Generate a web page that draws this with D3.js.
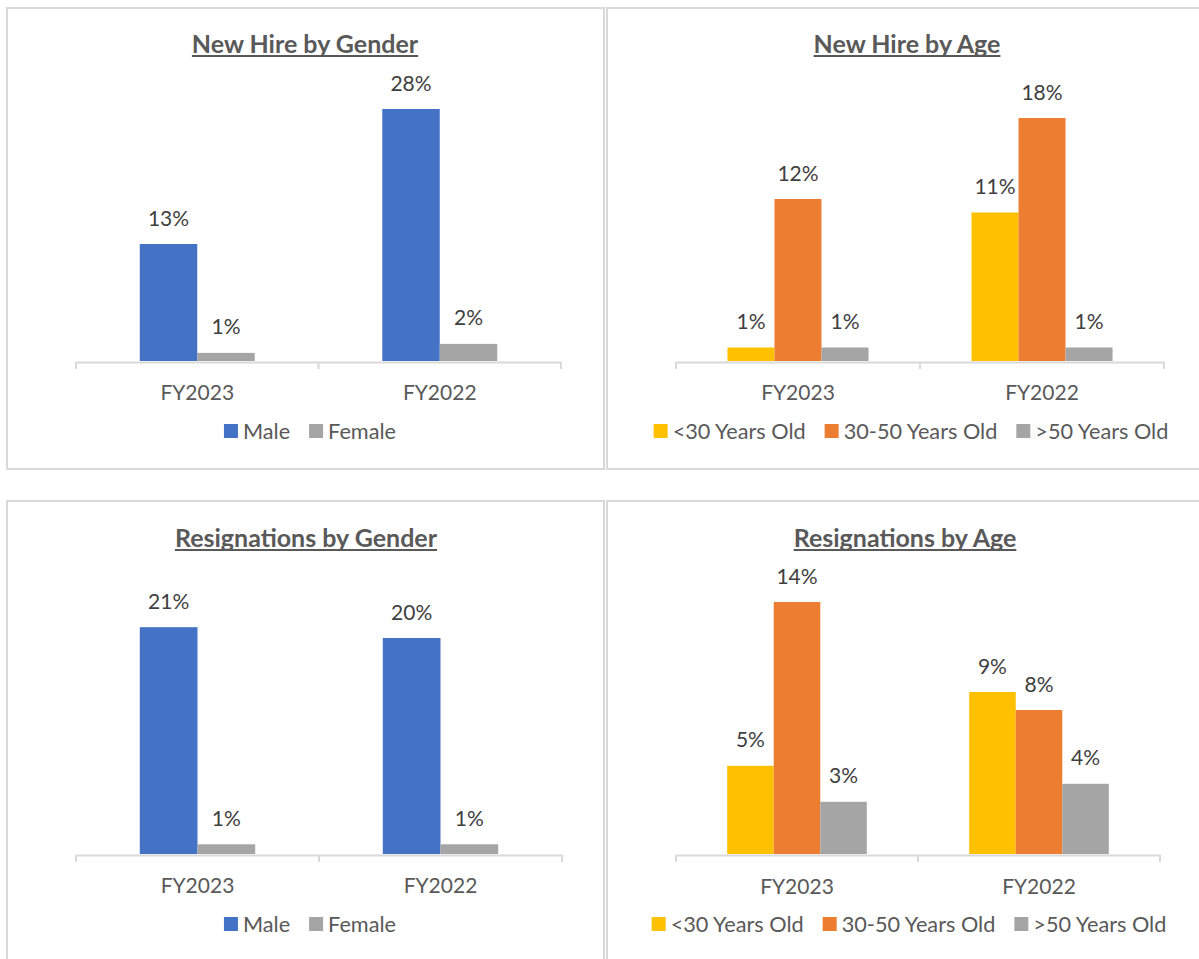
<!DOCTYPE html>
<html>
<head>
<meta charset="utf-8">
<script src="https://cdn.jsdelivr.net/npm/d3@7"></script>
<style>
  html, body { margin: 0; padding: 0; background: #ffffff; }
  svg { display: block; font-family: Lato, "Open Sans", sans-serif; }
</style>
</head>
<body>
<svg id="chart" width="1199" height="959"></svg>
<script>
// ---------- data ----------
const categories = ["FY2023", "FY2022"];
const genderSeries = ["Male", "Female"];
const ageSeries = ["<30 Years Old", "30-50 Years Old", ">50 Years Old"];

const newHireMale = [13.0, 28.0];
const newHireFemale = [0.9, 1.9];

const newHireUnder30 = [1.0, 11.0];
const newHire30to50 = [12.0, 18.0];
const newHireOver50 = [1.0, 1.0];

const resignMale = [21.0, 20.0];
const resignFemale = [0.9, 0.9];

const resignUnder30 = [4.9, 9.0];
const resign30to50 = [14.0, 8.0];
const resignOver50 = [2.9, 3.9];

const titles = ["New Hire by Gender", "New Hire by Age", "Resignations by Gender", "Resignations by Age"];

// ---------- styles ----------
const genderColors = ["#4472C4", "#A5A5A5"];
const ageColors = ["#FFC000", "#ED7D31", "#A5A5A5"];

const svg = d3.select("#chart");

const panels = [
  { title: titles[0], series: genderSeries, colors: genderColors, values: [newHireMale, newHireFemale],
    box: [7, 8, 604, 469], plotX: [76, 561], base: 361, top: 91, max: 30, groupFrac: 0.474,
    titleX: 305, titleY: 53, catY: 400, legendX: 310, legendY: 431 },
  { title: titles[1], series: ageSeries, colors: ageColors, values: [newHireUnder30, newHire30to50, newHireOver50],
    box: [607, 8, 1210, 469], plotX: [676, 1164], base: 361, top: 91, max: 20, groupFrac: 0.578,
    titleX: 907, titleY: 53, catY: 400, legendX: 911, legendY: 431 },
  { title: titles[2], series: genderSeries, colors: genderColors, values: [resignMale, resignFemale],
    box: [7, 501, 604, 975], plotX: [76, 562], base: 854, top: 584, max: 25, groupFrac: 0.475,
    titleX: 306, titleY: 547, catY: 893, legendX: 310, legendY: 924 },
  { title: titles[3], series: ageSeries, colors: ageColors, values: [resignUnder30, resign30to50, resignOver50],
    box: [607, 501, 1210, 975], plotX: [676, 1160], base: 854, top: 584, max: 15, groupFrac: 0.577,
    titleX: 905, titleY: 547, catY: 894, legendX: 909, legendY: 924 }
];

panels.forEach(p => {
  const g = svg.append("g");

  // panel border
  g.append("rect")
    .attr("x", p.box[0]).attr("y", p.box[1])
    .attr("width", p.box[2] - p.box[0]).attr("height", p.box[3] - p.box[1])
    .attr("fill", "#fff").attr("stroke", "#D9D9D9").attr("stroke-width", 2);

  // title
  const t = g.append("text")
    .attr("x", p.titleX).attr("y", p.titleY)
    .attr("text-anchor", "middle")
    .attr("font-size", 25).attr("font-weight", "bold")
    .attr("fill", "#595959")
    .text(p.title);
  const tw = t.node().getComputedTextLength();
  g.append("line")
    .attr("x1", p.titleX - tw / 2).attr("x2", p.titleX + tw / 2)
    .attr("y1", p.titleY + 3).attr("y2", p.titleY + 3)
    .attr("stroke", "#595959").attr("stroke-width", 2);

  // scales
  const x0 = d3.scaleBand().domain(categories).range(p.plotX).padding(0);
  const groupW = x0.bandwidth() * p.groupFrac;
  const x1 = d3.scaleBand().domain(p.series).range([-groupW / 2, groupW / 2]).padding(0);
  const y = d3.scaleLinear().domain([0, p.max]).range([p.base, p.top]);

  const rows = [];
  p.series.forEach((s, si) => {
    categories.forEach((c, ci) => {
      rows.push({ s, si, c, v: p.values[si][ci] });
    });
  });

  // bars
  g.selectAll("rect.bar").data(rows).enter().append("rect")
    .attr("class", "bar")
    .attr("x", d => x0(d.c) + x0.bandwidth() / 2 + x1(d.s))
    .attr("y", d => y(d.v))
    .attr("width", x1.bandwidth())
    .attr("height", d => y(0) - y(d.v))
    .attr("fill", d => p.colors[d.si]);

  // data labels
  g.selectAll("text.lbl").data(rows).enter().append("text")
    .attr("class", "lbl")
    .attr("x", d => x0(d.c) + x0.bandwidth() / 2 + x1(d.s) + x1.bandwidth() / 2)
    .attr("y", d => y(d.v) - 18.5)
    .attr("text-anchor", "middle")
    .attr("font-size", 21)
    .attr("fill", "#404040")
    .text(d => Math.round(d.v) + "%");

  // x axis
  const axis = d3.axisBottom(x0).tickSize(0).tickFormat("");
  const ag = g.append("g").attr("transform", `translate(0,${p.base + 1})`).call(axis);
  ag.select(".domain").attr("stroke", "#D9D9D9").attr("stroke-width", 2);
  // boundary tick marks
  const bounds = [p.plotX[0], x0(categories[1]), p.plotX[1]];
  g.selectAll("line.tk").data(bounds).enter().append("line")
    .attr("x1", d => d).attr("x2", d => d)
    .attr("y1", p.base + 1).attr("y2", p.base + 8)
    .attr("stroke", "#D9D9D9").attr("stroke-width", 2);

  // category labels
  g.selectAll("text.cat").data(categories).enter().append("text")
    .attr("x", d => x0(d) + x0.bandwidth() / 2)
    .attr("y", p.catY)
    .attr("text-anchor", "middle")
    .attr("font-size", 21)
    .attr("fill", "#595959")
    .text(d => d);

  // legend
  const lg = g.append("g");
  let cx = 0;
  p.series.forEach((s, i) => {
    const it = lg.append("g").attr("transform", `translate(${cx},0)`);
    it.append("rect").attr("x", 0).attr("y", p.legendY - 7).attr("width", 14).attr("height", 14)
      .attr("fill", p.colors[i]);
    const tx = it.append("text").attr("x", 19).attr("y", p.legendY + 7.5)
      .attr("font-size", 21.7).attr("fill", "#595959").text(s);
    cx += 19 + tx.node().getComputedTextLength() + 19;
  });
  const totalW = cx - 19;
  lg.attr("transform", `translate(${p.legendX - totalW / 2},0)`);
});
</script>
</body>
</html>
